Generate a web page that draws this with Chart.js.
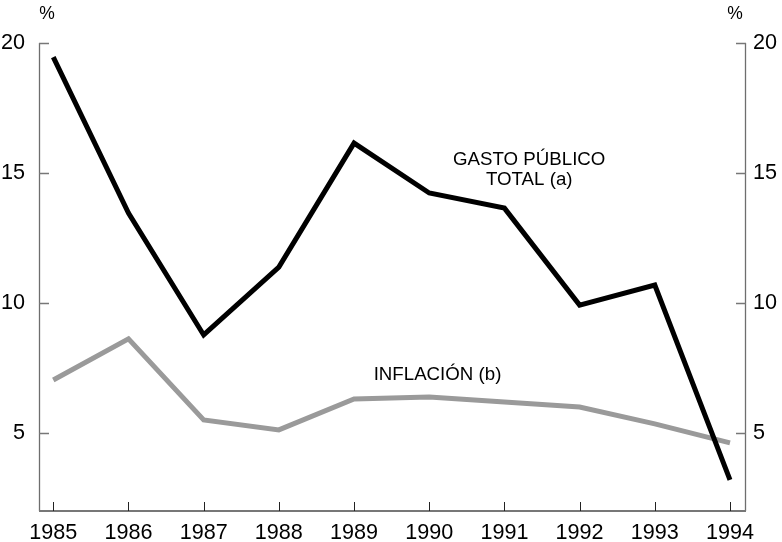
<!DOCTYPE html>
<html><head><meta charset="utf-8">
<script src="https://cdn.jsdelivr.net/npm/chart.js@4/dist/chart.umd.min.js"></script>
<style>html,body{margin:0;padding:0;background:#fff;overflow:hidden}#wrap{width:782px;height:542px;position:relative}</style>
</head><body><div id="wrap"><canvas id="c" width="782" height="542"></canvas></div>
<script>
// ---- data ----
const years = [1985, 1986, 1987, 1988, 1989, 1990, 1991, 1992, 1993, 1994];
const gastoPublico = [19.46, 13.46, 8.77, 11.38, 16.15, 14.23, 13.65, 9.92, 10.69, 3.2];
const inflacion = [7.04, 8.62, 5.5, 5.12, 6.31, 6.38, 6.19, 6.0, 5.35, 4.62];
const yTicks = [5, 10, 15, 20];
const unitLabel = '%';
const gastoLabel = ['GASTO PÚBLICO', 'TOTAL (a)'];
const inflLabel = 'INFLACIÓN (b)';

const FONT = "'Liberation Sans', Arial, sans-serif";

const overlay = {
  id: 'overlay',
  afterDraw(chart) {
    const ctx = chart.ctx;
    const a = chart.chartArea;
    const x = chart.scales.x, y = chart.scales.y;
    ctx.save();
    // axes
    ctx.strokeStyle = '#6e6e6e';
    ctx.lineWidth = 1.3;
    ctx.beginPath();
    ctx.moveTo(a.left + 0.5, a.top); ctx.lineTo(a.left + 0.5, a.bottom);
    ctx.moveTo(a.right - 0.5, a.top); ctx.lineTo(a.right - 0.5, a.bottom);
    ctx.stroke();
    ctx.strokeStyle = '#777';
    ctx.lineWidth = 2;
    ctx.beginPath();
    ctx.moveTo(a.left, a.bottom); ctx.lineTo(a.right, a.bottom);
    ctx.stroke();
    // y ticks (inward)
    ctx.strokeStyle = '#777';
    ctx.lineWidth = 1.3;
    ctx.beginPath();
    yTicks.forEach(v => {
      const py = Math.round(y.getPixelForValue(v)) + 0.5;
      ctx.moveTo(a.left, py); ctx.lineTo(a.left + 10, py);
      ctx.moveTo(a.right, py); ctx.lineTo(a.right - 10, py);
    });
    ctx.stroke();
    // x ticks (inward)
    ctx.strokeStyle = '#222';
    ctx.lineWidth = 1;
    ctx.beginPath();
    years.forEach(v => {
      const px = Math.round(x.getPixelForValue(v)) + 0.5;
      ctx.moveTo(px, a.bottom); ctx.lineTo(px, a.bottom - 9);
    });
    ctx.stroke();
    // unit labels
    ctx.fillStyle = '#000';
    ctx.font = '17.5px ' + FONT;
    ctx.textBaseline = 'middle';
    ctx.textAlign = 'center';
    ctx.fillText(unitLabel, a.left + 8, 14);
    ctx.fillText(unitLabel, a.right - 11, 14);
    // annotations
    ctx.font = '18.7px ' + FONT;
    ctx.textBaseline = 'alphabetic';
    const gx = x.getPixelForValue(1991.33);
    const gy = y.getPixelForValue(15.31);
    ctx.fillText(gastoLabel[0], gx, gy);
    ctx.fillText(gastoLabel[1], gx, gy + 20);
    ctx.fillText(inflLabel, x.getPixelForValue(1990.11), y.getPixelForValue(7.04));
    ctx.restore();
  }
};

const yScaleBase = {
  type: 'linear', min: 2, max: 20,
  grid: { display: false, drawTicks: false },
  border: { display: false },
  afterBuildTicks: s => { s.ticks = yTicks.map(v => ({ value: v })); },
};

new Chart(document.getElementById('c'), {
  type: 'line',
  data: {
    datasets: [
      { label: 'Gasto público total', data: years.map((yr, i) => ({ x: yr, y: gastoPublico[i] })),
        borderColor: '#000', borderWidth: 5, pointRadius: 0, tension: 0, borderJoinStyle: 'miter', yAxisID: 'y' },
      { label: 'Inflación', data: years.map((yr, i) => ({ x: yr, y: inflacion[i] })),
        borderColor: '#9a9a9a', borderWidth: 5, pointRadius: 0, tension: 0, borderJoinStyle: 'miter', yAxisID: 'y' }
    ]
  },
  options: {
    responsive: false, animation: false, devicePixelRatio: 1,
    layout: { padding: { top: 43, left: 0, right: 0, bottom: 0 } },
    plugins: { legend: { display: false }, tooltip: { enabled: false } },
    scales: {
      x: {
        type: 'linear', min: 1984.81, max: 1994.213,
        grid: { display: false, drawTicks: false },
        border: { display: false },
        afterBuildTicks: s => { s.ticks = years.map(v => ({ value: v })); },
        afterFit: s => { s.height = 31; },
        ticks: { autoSkip: false, maxRotation: 0, padding: 9, color: '#000',
          font: { family: FONT, size: 21.6 }, callback: v => String(v) }
      },
      y: Object.assign({}, yScaleBase, {
        position: 'left',
        afterFit: s => { s.width = 39; },
        ticks: { padding: 14, color: '#000', font: { family: FONT, size: 21.6 } }
      }),
      y2: Object.assign({}, yScaleBase, {
        position: 'right',
        afterFit: s => { s.width = 36; },
        ticks: { padding: 7, color: '#000', font: { family: FONT, size: 21.6 } }
      })
    }
  },
  plugins: [overlay]
});
</script>
</body></html>
